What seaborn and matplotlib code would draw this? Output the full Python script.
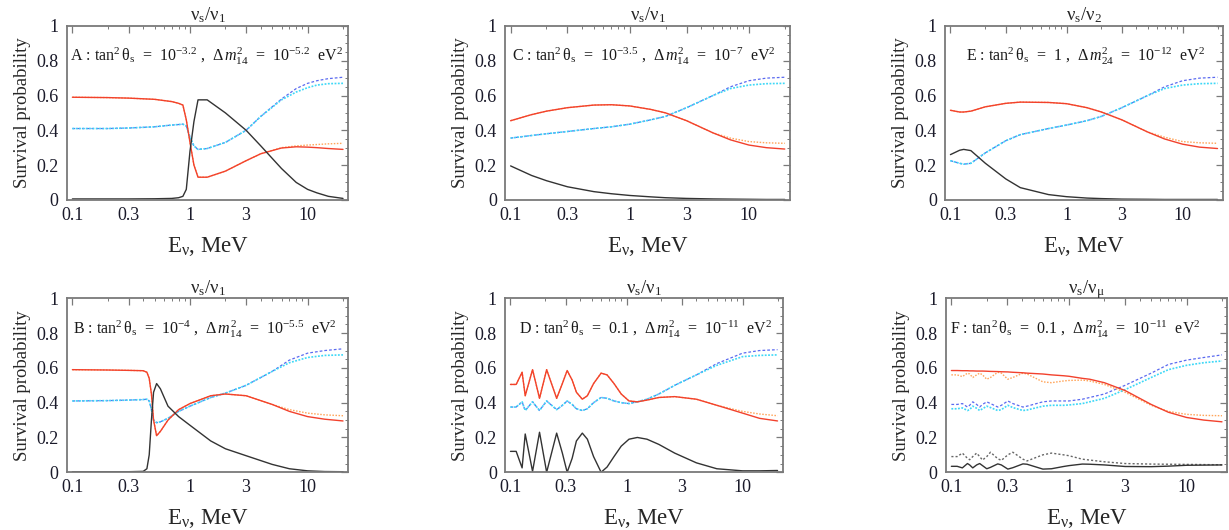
import numpy as np
import seaborn as sns
import matplotlib.pyplot as plt
from matplotlib.ticker import FixedLocator, NullFormatter

sns.set_theme(style="white")
plt.rcParams['font.family'] = ['Liberation Serif', 'DejaVu Serif']
plt.rcParams['mathtext.fontset'] = 'custom'
plt.rcParams['mathtext.rm'] = 'Liberation Serif'
plt.rcParams['mathtext.it'] = 'Liberation Serif:italic'
plt.rcParams['mathtext.bf'] = 'Liberation Serif:bold'

# ---------------- panel A ----------------
A_e = [0.1, 0.2, 0.3, 0.5, 0.7, 0.8, 0.87, 0.93, 1.0, 1.08, 1.17, 1.4, 2, 3, 4, 6, 8, 10, 12, 15, 20]
A_red = [0.59, 0.588, 0.585, 0.578, 0.565, 0.555, 0.545, 0.46, 0.33, 0.2, 0.13, 0.13, 0.165, 0.225, 0.265, 0.298, 0.305, 0.303, 0.3, 0.295, 0.29]
A_orange = [0.59, 0.588, 0.585, 0.578, 0.565, 0.555, 0.545, 0.46, 0.33, 0.2, 0.13, 0.13, 0.165, 0.225, 0.265, 0.3, 0.31, 0.315, 0.318, 0.322, 0.325]
A_black = [0.005, 0.005, 0.005, 0.006, 0.008, 0.012, 0.02, 0.06, 0.28, 0.45, 0.575, 0.575, 0.5, 0.4, 0.31, 0.18, 0.1, 0.06, 0.04, 0.02, 0.008]
A_cyan = [0.41, 0.41, 0.413, 0.42, 0.43, 0.433, 0.435, 0.425, 0.36, 0.31, 0.29, 0.295, 0.33, 0.4, 0.48, 0.575, 0.62, 0.645, 0.66, 0.668, 0.67]
A_blue = [0.41, 0.41, 0.413, 0.42, 0.43, 0.433, 0.435, 0.425, 0.36, 0.31, 0.29, 0.295, 0.33, 0.4, 0.48, 0.58, 0.64, 0.67, 0.685, 0.697, 0.705]

# ---------------- panel B ----------------
B_e = [0.1, 0.2, 0.3, 0.4, 0.43, 0.45, 0.47, 0.49, 0.52, 0.56, 0.65, 0.8, 1, 1.5, 2, 3, 5, 7, 10, 14, 20]
B_red = [0.59, 0.588, 0.586, 0.584, 0.575, 0.54, 0.45, 0.3, 0.21, 0.235, 0.3, 0.36, 0.395, 0.44, 0.45, 0.44, 0.39, 0.35, 0.32, 0.305, 0.295]
B_orange = [0.59, 0.588, 0.586, 0.584, 0.575, 0.54, 0.45, 0.3, 0.21, 0.235, 0.3, 0.36, 0.395, 0.44, 0.45, 0.44, 0.39, 0.36, 0.34, 0.33, 0.325]
B_black = [0.003, 0.003, 0.003, 0.005, 0.02, 0.1, 0.3, 0.46, 0.51, 0.48, 0.38, 0.32, 0.27, 0.18, 0.135, 0.095, 0.045, 0.02, 0.008, 0.004, 0.003]
B_cyan = [0.41, 0.412, 0.415, 0.418, 0.42, 0.41, 0.36, 0.3, 0.285, 0.29, 0.31, 0.35, 0.38, 0.43, 0.455, 0.5, 0.58, 0.63, 0.66, 0.672, 0.675]
B_blue = [0.41, 0.412, 0.415, 0.418, 0.42, 0.41, 0.36, 0.3, 0.285, 0.29, 0.31, 0.35, 0.38, 0.43, 0.455, 0.5, 0.58, 0.645, 0.685, 0.7, 0.71]

# ---------------- panel C ----------------
C_e = [0.1, 0.15, 0.2, 0.3, 0.5, 0.7, 1, 1.5, 2, 3, 5, 7, 10, 14, 20]
C_red = [0.455, 0.49, 0.51, 0.53, 0.545, 0.547, 0.54, 0.52, 0.5, 0.455, 0.385, 0.345, 0.315, 0.3, 0.292]
C_orange = [0.455, 0.49, 0.51, 0.53, 0.545, 0.547, 0.54, 0.52, 0.5, 0.455, 0.385, 0.355, 0.335, 0.328, 0.325]
C_black = [0.195, 0.14, 0.11, 0.075, 0.047, 0.035, 0.025, 0.017, 0.012, 0.008, 0.005, 0.004, 0.003, 0.002, 0.002]
C_cyan = [0.355, 0.37, 0.38, 0.393, 0.41, 0.42, 0.435, 0.46, 0.48, 0.53, 0.6, 0.64, 0.66, 0.668, 0.67]
C_blue = [0.355, 0.37, 0.38, 0.393, 0.41, 0.42, 0.435, 0.46, 0.48, 0.53, 0.6, 0.65, 0.685, 0.7, 0.705]

# ---------------- panel D ----------------
D_e = [0.1, 0.112, 0.126, 0.134, 0.155, 0.178, 0.205, 0.25, 0.28, 0.308, 0.34, 0.37, 0.416, 0.46, 0.52,
       0.604, 0.68, 0.78, 0.9, 1.05, 1.24, 1.5, 1.9, 2.6, 4, 6, 10, 14, 20]
D_red = [0.505, 0.505, 0.575, 0.44, 0.59, 0.425, 0.59, 0.425, 0.51, 0.585, 0.53, 0.46, 0.42, 0.44, 0.51,
         0.57, 0.56, 0.51, 0.45, 0.41, 0.405, 0.415, 0.43, 0.435, 0.42, 0.385, 0.34, 0.31, 0.295]
D_orange = [0.505, 0.505, 0.575, 0.44, 0.59, 0.425, 0.59, 0.425, 0.51, 0.585, 0.53, 0.46, 0.42, 0.44, 0.51,
            0.57, 0.56, 0.51, 0.45, 0.41, 0.405, 0.415, 0.43, 0.435, 0.42, 0.385, 0.35, 0.335, 0.325]
D_black = [0.12, 0.12, 0.025, 0.22, 0.005, 0.23, 0.0, 0.225, 0.11, 0.0, 0.08, 0.18, 0.225, 0.19, 0.09,
           0.0, 0.03, 0.09, 0.15, 0.19, 0.2, 0.19, 0.16, 0.11, 0.054, 0.02, 0.008, 0.008, 0.01]
D_cyan = [0.375, 0.375, 0.405, 0.355, 0.405, 0.355, 0.41, 0.36, 0.385, 0.41, 0.39, 0.365, 0.355, 0.365, 0.4,
          0.43, 0.425, 0.41, 0.4, 0.395, 0.405, 0.42, 0.45, 0.5, 0.56, 0.615, 0.665, 0.672, 0.675]
D_blue = [0.375, 0.375, 0.405, 0.355, 0.405, 0.355, 0.41, 0.36, 0.385, 0.41, 0.39, 0.365, 0.355, 0.365, 0.4,
          0.43, 0.425, 0.41, 0.4, 0.395, 0.405, 0.42, 0.45, 0.5, 0.56, 0.625, 0.685, 0.7, 0.705]

# ---------------- panel E ----------------
E_e = [0.1, 0.12, 0.13, 0.15, 0.2, 0.3, 0.4, 0.7, 1, 1.5, 2, 3, 5, 7, 10, 14, 20]
E_red = [0.515, 0.505, 0.505, 0.51, 0.535, 0.555, 0.562, 0.56, 0.553, 0.53, 0.505, 0.46, 0.39, 0.35, 0.32, 0.303, 0.295]
E_orange = [0.515, 0.505, 0.505, 0.51, 0.535, 0.555, 0.562, 0.56, 0.553, 0.53, 0.505, 0.46, 0.39, 0.36, 0.335, 0.328, 0.325]
E_black = [0.26, 0.285, 0.29, 0.283, 0.21, 0.12, 0.07, 0.03, 0.018, 0.01, 0.007, 0.004, 0.003, 0.002, 0.002, 0.002, 0.002]
E_cyan = [0.225, 0.21, 0.205, 0.21, 0.27, 0.34, 0.375, 0.41, 0.43, 0.455, 0.48, 0.53, 0.6, 0.64, 0.66, 0.668, 0.67]
E_blue = [0.225, 0.21, 0.205, 0.21, 0.27, 0.34, 0.375, 0.41, 0.43, 0.455, 0.48, 0.53, 0.6, 0.65, 0.685, 0.7, 0.705]

# ---------------- panel F ----------------
F_e = [0.1, 0.112, 0.124, 0.137, 0.143, 0.152, 0.164, 0.174, 0.184, 0.2, 0.215, 0.248, 0.266, 0.302, 0.333,
       0.406, 0.44, 0.6, 0.71, 0.9, 1.0, 1.3, 1.5, 2, 3, 5, 7, 10, 14, 20]
F_red = [0.585, 0.585, 0.584, 0.584, 0.583, 0.583, 0.582, 0.582, 0.582, 0.581, 0.58, 0.579, 0.578, 0.577, 0.575,
         0.572, 0.57, 0.565, 0.56, 0.555, 0.552, 0.54, 0.535, 0.515, 0.47, 0.39, 0.345, 0.315, 0.3, 0.29]
F_orange = [0.56, 0.56, 0.55, 0.57, 0.565, 0.545, 0.56, 0.57, 0.56, 0.535, 0.545, 0.575, 0.57, 0.535, 0.545,
            0.57, 0.565, 0.52, 0.515, 0.525, 0.528, 0.53, 0.525, 0.505, 0.46, 0.385, 0.35, 0.333, 0.327, 0.325]
F_blue = [0.39, 0.39, 0.395, 0.375, 0.385, 0.405, 0.39, 0.375, 0.39, 0.405, 0.395, 0.375, 0.385, 0.41, 0.395,
          0.375, 0.38, 0.405, 0.41, 0.41, 0.41, 0.42, 0.43, 0.45, 0.5, 0.57, 0.62, 0.645, 0.66, 0.675]
F_cyan = [0.365, 0.365, 0.37, 0.355, 0.36, 0.38, 0.368, 0.355, 0.365, 0.38, 0.372, 0.355, 0.36, 0.385, 0.372,
          0.355, 0.358, 0.38, 0.385, 0.385, 0.387, 0.395, 0.405, 0.425, 0.475, 0.545, 0.59, 0.615, 0.63, 0.64]
F_black = [0.034, 0.034, 0.025, 0.05, 0.042, 0.025, 0.042, 0.05, 0.038, 0.02, 0.028, 0.048, 0.042, 0.018, 0.026,
           0.048, 0.046, 0.018, 0.02, 0.033, 0.038, 0.047, 0.046, 0.042, 0.033, 0.032, 0.035, 0.04, 0.041, 0.042]
F_gray = [0.09, 0.09, 0.11, 0.08, 0.072, 0.09, 0.11, 0.09, 0.07, 0.09, 0.115, 0.078, 0.068, 0.1, 0.115,
          0.075, 0.065, 0.1, 0.11, 0.1, 0.095, 0.075, 0.07, 0.06, 0.05, 0.047, 0.046, 0.045, 0.044, 0.043]

titles = [r"$\mathrm{\nu_s/\nu_1}$", r"$\mathrm{\nu_s/\nu_1}$", r"$\mathrm{\nu_s/\nu_2}$",
          r"$\mathrm{\nu_s/\nu_1}$", r"$\mathrm{\nu_s/\nu_1}$", r"$\mathrm{\nu_s/\nu_\mu}$"]
notes = [
    r"A : tan$^2\,\mathrm{\theta_s}$  =  $10^{-3.2}$ ,  $\Delta\,m^2_{14}$  =  $10^{-5.2}$  eV$^2$",
    r"C : tan$^2\,\mathrm{\theta_s}$  =  $10^{-3.5}$ ,  $\Delta\,m^2_{14}$  =  $10^{-7}$  eV$^2$",
    r"E : tan$^2\,\mathrm{\theta_s}$  =  1 ,  $\Delta\,m^2_{24}$  =  $10^{-12}$  eV$^2$",
    r"B : tan$^2\,\mathrm{\theta_s}$  =  $10^{-4}$ ,  $\Delta\,m^2_{14}$  =  $10^{-5.5}$  eV$^2$",
    r"D : tan$^2\,\mathrm{\theta_s}$  =  0.1 ,  $\Delta\,m^2_{14}$  =  $10^{-11}$  eV$^2$",
    r"F : tan$^2\,\mathrm{\theta_s}$  =  0.1 ,  $\Delta\,m^2_{14}$  =  $10^{-11}$  eV$^2$",
]
note_x = [0.012, 0.025, 0.075, 0.02, 0.05, 0.015]

panels = [
    (A_e, A_blue, A_orange, A_cyan, A_red, A_black, None),
    (C_e, C_blue, C_orange, C_cyan, C_red, C_black, None),
    (E_e, E_blue, E_orange, E_cyan, E_red, E_black, None),
    (B_e, B_blue, B_orange, B_cyan, B_red, B_black, None),
    (D_e, D_blue, D_orange, D_cyan, D_red, D_black, None),
    (F_e, F_blue, F_orange, F_cyan, F_red, F_black, F_gray),
]

lefts = [0.0545, 0.411, 0.769, 0.0545, 0.411, 0.7697]
widths = [0.229, 0.232, 0.226, 0.229, 0.226, 0.229]
bottoms = [0.623, 0.623, 0.623, 0.109, 0.109, 0.109]
height = 0.328

fig = plt.figure(figsize=(12.29, 5.30), dpi=100)
frame_col = "#7a7a7a"

for i, (e, blue, orange, cyan, red, black, gray) in enumerate(panels):
    ax = fig.add_axes([lefts[i], bottoms[i], widths[i], height])
    sns.lineplot(x=e, y=blue, ax=ax, color="#5a6af0", lw=0.9, linestyle=(0, (2.2, 1.6)), estimator=None, sort=False)
    sns.lineplot(x=e, y=orange, ax=ax, color="#ffa55a", lw=1.0, linestyle=(0, (1.1, 1.1)), estimator=None, sort=False)
    sns.lineplot(x=e, y=cyan, ax=ax, color="#3dd8f7", lw=1.2, linestyle=(0, (1.1, 0.9)), estimator=None, sort=False)
    sns.lineplot(x=e, y=red, ax=ax, color="#f2412c", lw=1.0, estimator=None, sort=False)
    if gray is not None:
        sns.lineplot(x=e, y=gray, ax=ax, color="#666666", lw=1.0, linestyle=(0, (1.5, 1.5)), estimator=None, sort=False)
    sns.lineplot(x=e, y=black, ax=ax, color="#333333", lw=1.0, estimator=None, sort=False)

    ax.set_xscale("log")
    lo, hi = np.log10(0.1), np.log10(20)
    pad = 0.02 * (hi - lo)
    ax.set_xlim(10 ** (lo - pad), 10 ** (hi + pad))
    ax.set_ylim(0, 1)

    ax.xaxis.set_major_locator(FixedLocator([0.1, 0.3, 1, 3, 10]))
    ax.set_xticklabels(["0.1", "0.3", "1", "3", "10"])
    ax.xaxis.set_minor_locator(FixedLocator([0.2, 0.4, 0.5, 0.6, 0.7, 0.8, 0.9, 2, 4, 5, 6, 7, 8, 9, 20]))
    ax.xaxis.set_minor_formatter(NullFormatter())
    ax.set_yticks([0, 0.2, 0.4, 0.6, 0.8, 1.0])
    ax.set_yticklabels(["0", "0.2", "0.4", "0.6", "0.8", "1"])
    ax.yaxis.set_minor_locator(FixedLocator(np.arange(0.05, 1.0, 0.05)))

    ax.tick_params(which="both", direction="in", top=True, right=True, color=frame_col,
                   labelsize=13, labelcolor="#1a1a2a")
    ax.tick_params(axis="x", which="major", pad=5)
    ax.tick_params(axis="y", which="major", pad=6)
    ax.tick_params(which="major", length=5, width=0.9)
    ax.tick_params(which="minor", length=2.5, width=0.7)
    for s in ax.spines.values():
        s.set_color(frame_col)
        s.set_linewidth(1.3)

    ax.set_title(titles[i], fontsize=13.5, pad=4)
    ax.set_xlabel(r"E$_\mathrm{\nu}$, MeV", fontsize=16.5, labelpad=8)
    ax.set_ylabel("Survival probability", fontsize=13.5, labelpad=4)
    ax.text(note_x[i], 0.825, notes[i], transform=ax.transAxes, fontsize=11.5,
            ha="left", va="center", color="#1a1a1a", clip_on=True)

fig.savefig("out.png", dpi=100)
